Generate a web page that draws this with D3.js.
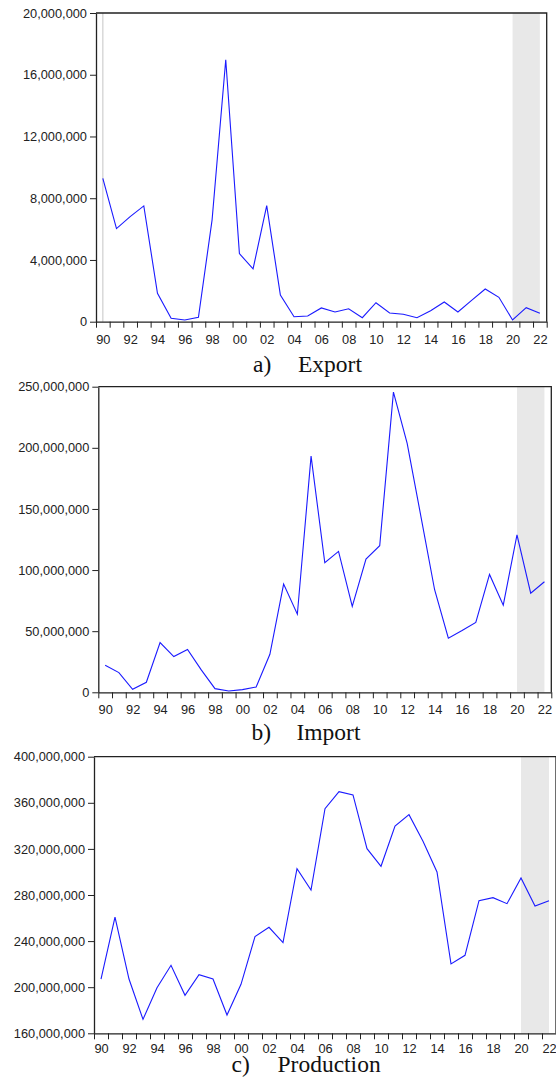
<!DOCTYPE html>
<html>
<head>
<meta charset="utf-8">
<script src="https://cdn.jsdelivr.net/npm/d3@7"></script>
<style>
  body { margin: 0; background: #fff; }
  .axis text { font-family: "Liberation Sans", Arial, sans-serif; font-size: 12.8px; fill: #222; }
  .axis path, .axis line { stroke: #222; }
  .caption { font-family: "Liberation Serif", "Times New Roman", serif; font-size: 23.5px; fill: #111; }
</style>
</head>
<body>
<div id="chart"></div>
<script>
const years = [1990, 1991, 1992, 1993, 1994, 1995, 1996, 1997, 1998, 1999,
  2000, 2001, 2002, 2003, 2004, 2005, 2006, 2007, 2008, 2009,
  2010, 2011, 2012, 2013, 2014, 2015, 2016, 2017, 2018, 2019,
  2020, 2021, 2022];

const exportVals = [9280000, 6030000, 6810000, 7500000, 1840000, 220000, 110000, 280000, 6600000, 16970000,
  4410000, 3420000, 7520000, 1730000, 320000, 370000, 890000, 630000, 840000, 260000,
  1230000, 560000, 480000, 260000, 710000, 1280000, 630000, 1380000, 2120000, 1580000,
  110000, 910000, 540000];

const importVals = [22100000, 16100000, 2500000, 8200000, 40700000, 29200000, 35000000, 18300000, 3000000, 1100000,
  2200000, 4400000, 31100000, 88500000, 63900000, 193200000, 106000000, 115300000, 70200000, 109000000,
  119900000, 245600000, 203600000, 144000000, 83900000, 44300000, 50500000, 57100000, 96400000, 71300000,
  128700000, 81100000, 90400000];

const productionVals = [207100000, 260900000, 207100000, 172100000, 199600000, 219000000, 193000000, 210900000, 207100000, 175900000,
  202500000, 243900000, 252000000, 238700000, 302900000, 284300000, 354900000, 369700000, 366800000, 320200000,
  304900000, 339900000, 349700000, 326600000, 300000000, 220200000, 227700000, 275100000, 277700000, 272500000,
  294800000, 270500000, 275100000];

const exportTicks = [0, 4000000, 8000000, 12000000, 16000000, 20000000];
const importTicks = [0, 50000000, 100000000, 150000000, 200000000, 250000000];
const productionTicks = [160000000, 200000000, 240000000, 280000000, 320000000, 360000000, 400000000];

const shadeYears = [2020, 2022];
const labelYears = years.filter(y => y % 2 === 0);

const svg = d3.select("#chart")
  .append("svg")
  .attr("width", 556)
  .attr("height", 1084);

function drawPanel(p) {
  const x = d3.scaleLinear()
    .domain([years[0] - 0.5, years[years.length - 1] + 0.5])
    .range([p.left, p.right]);

  const y = d3.scaleLinear()
    .domain(d3.extent(p.ticks))
    .range([p.bottom, p.top]);

  const g = svg.append("g");

  // shaded period
  g.append("rect")
    .attr("x", x(shadeYears[0]))
    .attr("y", p.top)
    .attr("width", x(shadeYears[1]) - x(shadeYears[0]))
    .attr("height", p.bottom - p.top)
    .attr("fill", "#e8e8e8");

  if (p.markStart) {
    g.append("line")
      .attr("x1", x(years[0])).attr("x2", x(years[0]))
      .attr("y1", p.top).attr("y2", p.bottom)
      .attr("stroke", "#cfcfcf")
      .attr("stroke-width", 1.2);
  }

  // frame (top + right)
  g.append("path")
    .attr("d", `M${p.left},${p.top}H${p.right}V${p.bottom}`)
    .attr("fill", "none")
    .attr("stroke", "#222")
    .attr("stroke-width", 1.3);

  // year boundary ticks
  const boundaries = years.map(d => d - 0.5).concat([years[years.length - 1] + 0.5]);
  g.append("g")
    .attr("class", "axis")
    .attr("transform", `translate(0,${p.bottom})`)
    .call(d3.axisBottom(x).tickValues(boundaries).tickSize(6).tickSizeOuter(0).tickFormat(""))
    .call(a => a.select(".domain").attr("stroke-width", 1.3));

  // year labels at period centres
  g.append("g")
    .attr("class", "axis")
    .attr("transform", `translate(0,${p.bottom})`)
    .call(d3.axisBottom(x).tickValues(labelYears).tickSize(0).tickPadding(p.labelPad)
      .tickFormat(d => String(d % 100).padStart(2, "0")))
    .call(a => a.select(".domain").remove());

  g.append("g")
    .attr("class", "axis")
    .attr("transform", `translate(${p.left},0)`)
    .call(d3.axisLeft(y).tickValues(p.ticks).tickSize(6).tickSizeOuter(0).tickPadding(3)
      .tickFormat(d3.format(",")))
    .call(a => a.select(".domain").attr("stroke-width", 1.3));

  g.append("path")
    .datum(p.values)
    .attr("fill", "none")
    .attr("stroke", "#1a1aff")
    .attr("stroke-width", 1.1)
    .attr("d", d3.line()
      .x((d, i) => x(years[i]))
      .y(d => y(d)));

  const cap = g.append("text")
    .attr("class", "caption")
    .attr("y", p.capY);
  cap.append("tspan").attr("x", p.capX[0]).text(p.letter);
  cap.append("tspan").attr("x", p.capX[1]).text(p.name);
}

drawPanel({ values: exportVals, ticks: exportTicks, left: 96, right: 546.7, top: 13, bottom: 321.7,
  labelPad: 13, markStart: true, letter: "a)", name: "Export", capX: [253, 298], capY: 371.5 });
drawPanel({ values: importVals, ticks: importTicks, left: 98.3, right: 551.3, top: 386.7, bottom: 692.3,
  labelPad: 12.5, markStart: false, letter: "b)", name: "Import", capX: [251.5, 296.5], capY: 740 });
drawPanel({ values: productionVals, ticks: productionTicks, left: 94, right: 556, top: 756.7, bottom: 1033.3,
  labelPad: 10.5, markStart: false, letter: "c)", name: "Production", capX: [231.5, 277.5], capY: 1071.5 });
</script>
</body>
</html>
